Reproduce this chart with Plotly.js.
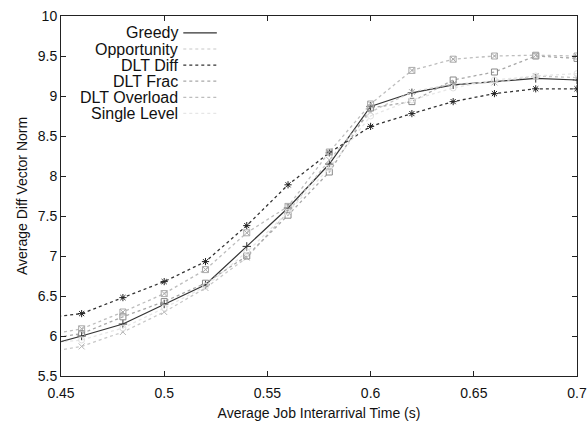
<!DOCTYPE html>
<html>
<head>
<meta charset="utf-8">
<script src="https://cdn.plot.ly/plotly-3.0.1.min.js"></script>
<style>html,body{margin:0;padding:0;background:#fff;}#chart{width:587px;height:428px;}</style>
</head>
<body>
<div id="chart"></div>
<script>
// Data (x = average job interarrival time, s)
const interarrival = [0.44, 0.46, 0.48, 0.50, 0.52, 0.54, 0.56, 0.58, 0.60, 0.62, 0.64, 0.66, 0.68, 0.70];
const greedy      = [5.86, 6.00, 6.15, 6.40, 6.64, 7.12, 7.60, 8.15, 8.87, 9.04, 9.14, 9.18, 9.22, 9.20];
const opportunity = [5.78, 5.87, 6.05, 6.30, 6.60, 6.98, 7.55, 8.20, 8.80, 9.05, 9.15, 9.17, 9.25, 9.23];
const dltDiff     = [6.22, 6.28, 6.48, 6.68, 6.93, 7.38, 7.89, 8.29, 8.62, 8.78, 8.93, 9.03, 9.09, 9.09];
const dltFrac     = [5.95, 6.03, 6.24, 6.43, 6.66, 7.00, 7.51, 8.05, 8.85, 8.93, 9.20, 9.30, 9.50, 9.47];
const dltOverload = [6.00, 6.09, 6.30, 6.53, 6.83, 7.29, 7.62, 8.30, 8.90, 9.32, 9.46, 9.50, 9.51, 9.50];
const singleLevel = [5.90, 5.95, 6.10, 6.35, 6.62, 7.05, 7.55, 8.10, 8.75, 8.95, 9.10, 9.20, 9.25, 9.28];

const seriesNames = ["Greedy", "Opportunity", "DLT Diff", "DLT Frac", "DLT Overload", "Single Level"];
const seriesValues = [greedy, opportunity, dltDiff, dltFrac, dltOverload, singleLevel];
const xTicks = [0.45, 0.5, 0.55, 0.6, 0.65, 0.7];
const xTickText = ["0.45", "0.5", "0.55", "0.6", "0.65", "0.7"];
const yTicks = [5.5, 6, 6.5, 7, 7.5, 8, 8.5, 9, 9.5, 10];
const yTickText = ["5.5", "6", "6.5", "7", "7.5", "8", "8.5", "9", "9.5", "10"];

// styles
const styles = [
  {color: "#333333", dash: "solid", symbol: "cross-thin-open", mcolor: "#333333"},
  {color: "#c8c8c8", dash: "dot",   symbol: "x-thin-open",     mcolor: "#b8b8b8"},
  {color: "#333333", dash: "dot",   symbol: "asterisk-open",   mcolor: "#222222"},
  {color: "#a8a8a8", dash: "dot",   symbol: "square-open",     mcolor: "#888888"},
  {color: "#bdbdbd", dash: "dot",   symbol: "square-x-open",   mcolor: "#aaaaaa"},
  {color: "#e6e6e6", dash: "dot",   symbol: "circle-open",     mcolor: "#e0e0e0"}
];

const traces = seriesNames.map((name, i) => ({
  type: "scatter",
  mode: "lines+markers",
  name: name,
  x: interarrival,
  y: seriesValues[i],
  cliponaxis: true,
  showlegend: false,
  line: {color: styles[i].color, width: i === 0 ? 1.2 : 1.3, dash: styles[i].dash},
  marker: {symbol: styles[i].symbol, size: 6, color: styles[i].mcolor, line: {color: styles[i].mcolor, width: 1}}
}));

// Hand-built legend (text right-aligned, sample to the right) in paper coordinates
const annotations = [];
const shapes = [];
const legTop = 0.953, legStep = 0.0447;
seriesNames.forEach((name, i) => {
  const yy = legTop - i * legStep;
  annotations.push({
    xref: "paper", yref: "paper", x: 0.227, y: yy, xanchor: "right", yanchor: "middle",
    text: name, showarrow: false, xshift: 2,
    font: {family: "Liberation Sans, Arial, sans-serif", size: 16, color: "#111"}
  });
  shapes.push({
    type: "line", xref: "paper", yref: "paper", x0: 0.237, x1: 0.302, y0: yy, y1: yy,
    line: {color: styles[i].color, width: 1.2, dash: styles[i].dash}
  });
});

const layout = {
  width: 587, height: 428,
  margin: {l: 61, r: 10, t: 16, b: 52},
  paper_bgcolor: "#ffffff", plot_bgcolor: "#ffffff",
  font: {family: "Liberation Sans, Arial, sans-serif", size: 14, color: "#111"},
  xaxis: {
    range: [0.45, 0.7], tickvals: xTicks, ticktext: xTickText,
    ticks: "inside", ticklen: 5, tickcolor: "#222", mirror: "ticks",
    showline: true, linecolor: "#222", linewidth: 1, showgrid: false, zeroline: false,
    tickfont: {size: 14}, ticklabelstandoff: 4,
    title: {text: "Average Job Interarrival Time (s)", font: {size: 14}, standoff: 8}
  },
  yaxis: {
    range: [5.5, 10], tickvals: yTicks, ticktext: yTickText,
    ticks: "inside", ticklen: 5, tickcolor: "#222", mirror: "ticks",
    showline: true, linecolor: "#222", linewidth: 1, showgrid: false, zeroline: false,
    tickfont: {size: 14},
    title: {text: "Average Diff Vector Norm", font: {size: 14}, standoff: 6}
  },
  showlegend: false,
  annotations: annotations,
  shapes: shapes
};

Plotly.newPlot("chart", traces, layout, {displayModeBar: false, staticPlot: true});
</script>
</body>
</html>
